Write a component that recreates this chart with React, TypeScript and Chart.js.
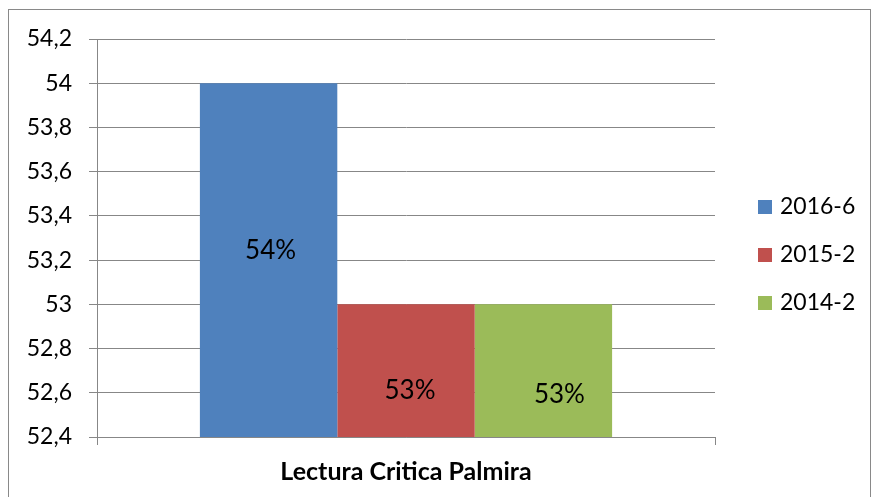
import React, { useEffect, useRef } from "react";
import { Chart, registerables } from "chart.js";

Chart.register(...registerables);

const categories = ["Lectura Critica Palmira"];
const seriesNames = ["2016-6", "2015-2", "2014-2"];
const seriesValues = [[54], [53], [53]];
const valueLabels = ["54%", "53%", "53%"];
const seriesColors = ["#4f81bd", "#c0504d", "#9bbb59"];
const yMin = 52.4;
const yMax = 54.2;
const yStep = 0.2;

const FONT = "Lato, 'Liberation Sans', sans-serif";
const GRID = "#878787";

const labelNudge = [
  { dx: 2, dy: -10 },
  { dx: 4, dy: 20 },
  { dx: 16, dy: 24 },
];

const valueLabelPlugin = {
  id: "barValueText",
  afterDraw(chart: any) {
    const ctx = chart.ctx;
    const area = chart.chartArea;
    ctx.save();
    ctx.font = `26px ${FONT}`;
    ctx.fillStyle = "#000000";
    ctx.textAlign = "center";
    ctx.textBaseline = "middle";
    for (let i = 0; i < chart.data.datasets.length; i++) {
      const meta = chart.getDatasetMeta(i);
      for (const bar of meta.data) {
        const p = bar.getProps(["x", "y", "base"], true);
        const top = Math.max(p.y, area.top);
        const bottom = Math.min(p.base, area.bottom);
        const cy = (top + bottom) / 2;
        const n = labelNudge[i] || { dx: 0, dy: 0 };
        ctx.fillText(valueLabels[i], p.x + n.dx, cy + n.dy);
      }
    }
    ctx.restore();
  },
};

const legendPlugin = {
  id: "sideLegend",
  afterDraw(chart: any) {
    const ctx = chart.ctx;
    const area = chart.chartArea;
    ctx.save();
    ctx.font = `23px ${FONT}`;
    ctx.textAlign = "left";
    ctx.textBaseline = "middle";
    const x0 = area.right + 43;
    const spacing = 48;
    const midY = 255;
    const n = chart.data.datasets.length;
    chart.data.datasets.forEach((ds: any, i: number) => {
      const y = midY + (i - (n - 1) / 2) * spacing;
      ctx.fillStyle = ds.backgroundColor;
      ctx.fillRect(x0, y - 7, 14, 14);
      ctx.fillStyle = "#000";
      ctx.fillText(ds.label, x0 + 22, y);
    });
    ctx.restore();
  },
};

function fmt(v: number) {
  return String(Number(v.toFixed(1))).replace(".", ",");
}

export default function App() {
  const ref = useRef<HTMLCanvasElement>(null);
  useEffect(() => {
    if (!ref.current) return;
    const chart = new Chart(ref.current, {
      type: "bar",
      data: {
        labels: categories,
        datasets: seriesNames.map((name, i) => ({
          label: name,
          data: seriesValues[i],
          backgroundColor: seriesColors[i],
          borderWidth: 0,
          barPercentage: 1,
          categoryPercentage: 0.667,
        })),
      },
      options: {
        animation: false,
        responsive: false,
        maintainAspectRatio: false,
        layout: { padding: { top: 39, bottom: 0, left: 0, right: 156 } },
        plugins: {
          legend: { display: false },
          tooltip: { enabled: false },
          title: { display: false },
        },
        scales: {
          x: {
            offset: true,
            afterFit: (scale: any) => {
              scale.height = 60;
            },
            grid: {
              display: true,
              offset: true,
              drawOnChartArea: false,
              drawTicks: true,
              tickLength: 8,
              color: GRID,
              lineWidth: 1,
            },
            border: { display: true, color: GRID, width: 1 },
            ticks: {
              padding: 12,
              color: "#000",
              font: { family: FONT, size: 25, weight: "bold" },
            },
          },
          y: {
            min: yMin,
            max: yMax,
            afterFit: (scale: any) => {
              scale.width = 97;
            },
            grid: {
              color: GRID,
              lineWidth: 1,
              tickLength: 8,
              drawTicks: true,
            },
            border: { display: true, color: GRID, width: 1 },
            ticks: {
              stepSize: yStep,
              padding: 17,
              color: "#000",
              font: { family: FONT, size: 23 },
              callback: (v: any) => fmt(Number(v)),
            },
          },
        },
      },
      plugins: [valueLabelPlugin, legendPlugin],
    });
    return () => chart.destroy();
  }, []);

  return (
    <div style={{ position: "absolute", left: 0, top: 0, width: 871, height: 497, overflow: "hidden", background: "#fff" }}>
      <div
        style={{
          position: "absolute",
          left: 8,
          top: 9,
          width: 861,
          height: 520,
          border: "1px solid #898989",
        }}
      />
      <canvas ref={ref} width={871} height={497} style={{ position: "absolute", left: 0, top: 0, width: 871, height: 497 }} />
    </div>
  );
}
